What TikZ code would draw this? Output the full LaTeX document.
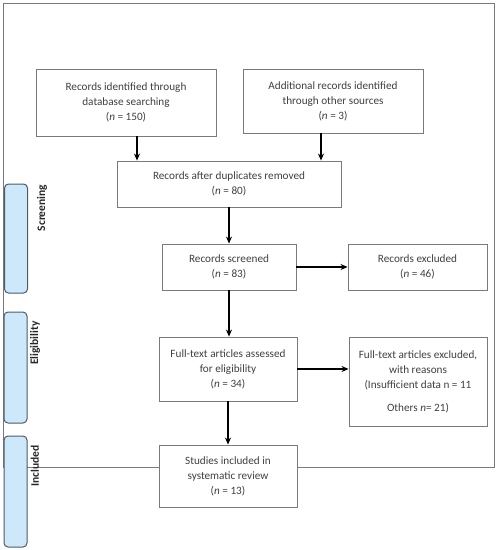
\documentclass[tikz,border=0pt]{standalone}
\usepackage{fontspec}
\setmainfont{Carlito}
\usetikzlibrary{arrows.meta}
\definecolor{txt}{HTML}{404040}
\definecolor{boxline}{HTML}{7A7A7A}
\definecolor{tabfill}{HTML}{CDE8FA}
\definecolor{tabline}{HTML}{4E5B66}
\tikzset{
  flowbox/.style={draw=boxline, line width=0.9pt, fill=white, inner sep=2pt, align=center,
    text=txt, font=\fontsize{11.2}{15}\selectfont},
  tab/.style={draw=tabline, line width=1pt, fill=tabfill, rounded corners=4pt, minimum width=23pt, inner sep=0pt},
  tablabel/.style={rotate=90, font=\fontsize{11.5}{12}\selectfont\bfseries, text=black!85},
  arr/.style={line width=1.4pt, -{Stealth[length=7pt,width=6pt]}}
}
\begin{document}
\begin{tikzpicture}[x=1pt,y=-1pt]
\useasboundingbox (0,0) rectangle (497,550);
% outer frame
\draw[boxline, line width=0.8pt] (3,3) rectangle (494,467);
% phase tabs
\node[tab, minimum height=109pt] (tabS) at (16,238.5) {};
\node[tab, minimum height=111pt] (tabE) at (15.5,367.5) {};
\node[tab, minimum height=111pt] (tabI) at (15.5,491.5) {};
\node[tablabel] (lS) at (42,208) {Screening};
\node[tablabel] (lE) at (35,343) {Eligibility};
\node[tablabel] (lI) at (35,466) {Included};
% boxes
\node[flowbox, minimum width=180pt, minimum height=67pt] (b1) at (126,102.5)
  {Records identified through\\database searching\\(\textit{n} = 150)};
\node[flowbox, minimum width=180pt, minimum height=64pt] (b2) at (333,101)
  {Additional records identified\\through other sources\\(\textit{n} = 3)};
\node[flowbox, minimum width=224pt, minimum height=46pt] (b3) at (229,184)
  {Records after duplicates removed\\(\textit{n} = 80)};
\node[flowbox, minimum width=134pt, minimum height=46pt] (b4) at (229,267)
  {Records screened\\(\textit{n} = 83)};
\node[flowbox, minimum width=139pt, minimum height=46pt] (b5) at (417.5,267)
  {Records excluded\\(\textit{n} = 46)};
\node[flowbox, minimum width=138pt, minimum height=64pt] (b6) at (228,369)
  {Full-text articles assessed\\for eligibility\\(\textit{n} = 34)};
\node[flowbox, minimum width=138pt, minimum height=89pt] (b7) at (418,381.5)
  {Full-text articles excluded,\\with reasons\\(Insufficient data n = 11\\[8pt]Others \textit{n}= 21)};
\node[flowbox, minimum width=138pt, minimum height=62pt] (b8) at (228,476)
  {Studies included in\\systematic review\\(\textit{n} = 13)};
% connectors
\draw[arr] ([xshift=11pt]b1.south) -- ([xshift=11pt]b1.south |- b3.north);
\draw[arr] ([xshift=-12pt]b2.south) -- ([xshift=-12pt]b2.south |- b3.north);
\draw[arr] (b3.south) -- (b3.south |- b4.north);
\draw[arr] (b4.south) -- (b4.south |- b6.north);
\draw[arr] (b4.east) -- (b5.west);
\draw[arr] (b6.east) -- (b6.east -| b7.west);
\draw[arr] (b6.south) -- (b8.north);
\end{tikzpicture}
\end{document}
